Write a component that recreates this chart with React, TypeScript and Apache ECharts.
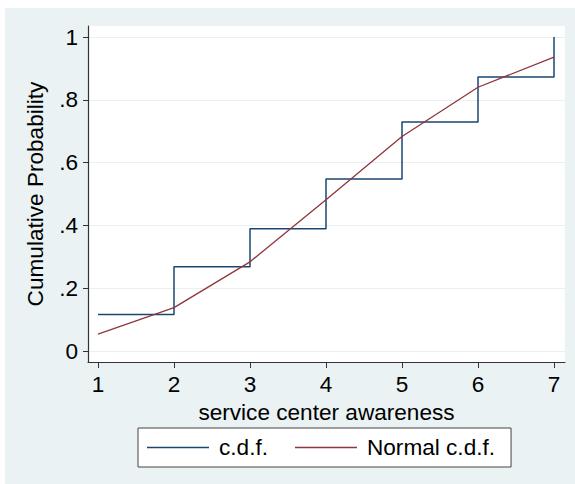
import React, { useEffect, useRef } from "react";
import * as echarts from "echarts";

const xTicks = [1, 2, 3, 4, 5, 6, 7];
const yTicks = [0, 0.2, 0.4, 0.6, 0.8, 1];
const xValues = [1, 2, 3, 4, 5, 6, 7];
const cdfValues = [0.116, 0.268, 0.389, 0.548, 0.729, 0.873, 1.0];
const normalValues = [0.054, 0.138, 0.284, 0.482, 0.683, 0.84, 0.936];
const seriesNames = ["c.d.f.", "Normal c.d.f."];

const FONT = '"Liberation Sans", Arial, sans-serif';
const FS = 22.6;

function fmtY(v: number): string {
  if (Math.abs(v) < 1e-9) return "0";
  if (Math.abs(v - 1) < 1e-9) return "1";
  return v.toFixed(1).replace(/^0/, "");
}

export default function App() {
  const ref = useRef<HTMLDivElement>(null);
  useEffect(() => {
    if (!ref.current) return;
    const chart = echarts.init(ref.current, null, { renderer: "svg" });
    const option: any = {
      animation: false,
      textStyle: { fontFamily: FONT },
      graphic: [
        {
          type: "rect",
          z: -10,
          silent: true,
          shape: { x: 5, y: 8, width: 570, height: 476 },
          style: { fill: "#eaf2f3" },
        },
      ],
      grid: {
        left: 88,
        top: 26,
        width: 477,
        height: 336,
        show: true,
        backgroundColor: "#ffffff",
        borderWidth: 0,
      },
      xAxis: {
        type: "value",
        min: 1 - 10 / 76,
        max: 7 + 11 / 76,
        name: "service center awareness",
        nameLocation: "middle",
        nameGap: 31,
        nameTextStyle: { fontSize: FS, color: "#000", fontFamily: FONT },
        axisLine: { show: true, onZero: false, lineStyle: { color: "#333", width: 1.2 } },
        axisTick: { show: true, length: 6, customValues: xTicks, lineStyle: { color: "#333" } },
        axisLabel: {
          customValues: xTicks,
          margin: 11,
          fontSize: FS,
          color: "#000",
          fontFamily: FONT,
          formatter: (v: number) => String(Math.round(v)),
        },
        splitLine: { show: false },
      },
      yAxis: {
        type: "value",
        min: -11 / 314,
        max: 1 + 11 / 314,
        name: "Cumulative Probability",
        nameLocation: "middle",
        nameGap: 41,
        nameTextStyle: { fontSize: FS, color: "#000", fontFamily: FONT },
        axisLine: { show: true, onZero: false, lineStyle: { color: "#333", width: 1.2 } },
        axisTick: { show: true, length: 5, customValues: yTicks, lineStyle: { color: "#333" } },
        axisLabel: {
          customValues: yTicks,
          margin: 10,
          fontSize: FS,
          color: "#000",
          fontFamily: FONT,
          formatter: (v: number) => fmtY(v),
        },
        splitLine: { show: true, lineStyle: { color: "#e8f0f2", width: 1.2 } },
      },
      legend: {
        left: 138,
        top: 428,
        orient: "horizontal",
        padding: [8, 16, 8, 9],
        itemWidth: 62,
        itemHeight: 1.5,
        itemGap: 27,
        icon: "rect",
        backgroundColor: "#ffffff",
        borderColor: "#444",
        borderWidth: 1,
        borderRadius: 0,
        textStyle: { fontSize: FS, color: "#000", fontFamily: FONT, padding: [0, 0, 0, 5] },
        data: seriesNames,
      },
      series: [
        {
          name: seriesNames[0],
          type: "line",
          step: "end",
          symbol: "none",
          data: xValues.map((x, i) => [x, cdfValues[i]]),
          lineStyle: { color: "#1a476f", width: 1.5 },
          itemStyle: { color: "#1a476f" },
        },
        {
          name: seriesNames[1],
          type: "line",
          symbol: "none",
          data: xValues.map((x, i) => [x, normalValues[i]]),
          lineStyle: { color: "#90353b", width: 1.3 },
          itemStyle: { color: "#90353b" },
        },
      ],
    };
    chart.setOption(option);
    return () => chart.dispose();
  }, []);
  return (
    <div
      ref={ref}
      style={{ position: "fixed", left: 0, top: 0, width: 575, height: 484, background: "#ffffff" }}
    />
  );
}
